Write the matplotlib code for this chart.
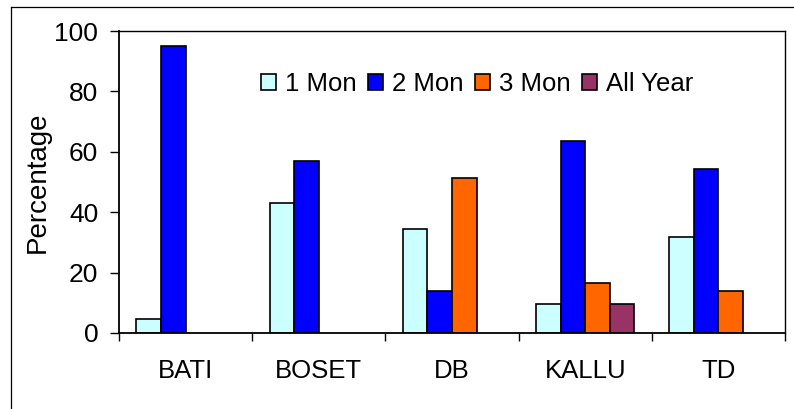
import numpy as np
import matplotlib.pyplot as plt
from matplotlib.lines import Line2D

plt.rcParams['font.family'] = ['Liberation Sans', 'DejaVu Sans']

sites = ['BATI', 'BOSET', 'DB', 'KALLU', 'TD']
series = ['1 Mon', '2 Mon', '3 Mon', 'All Year']
one_mon = [4.5, 43.0, 34.3, 9.7, 31.7]
two_mon = [95.1, 56.8, 13.9, 63.5, 54.2]
three_mon = [0, 0, 51.4, 16.5, 13.8]
all_year = [0, 0, 0, 9.7, 0]
colors = ['#CCFFFF', '#0000FF', '#FF6600', '#993366']

fs = 18.5
fig = plt.figure(figsize=(7.94, 4.09), dpi=100)
ax = fig.add_axes([119 / 794, 1 - 333 / 409, 666 / 794, 302 / 409])

x = np.arange(len(sites))
w = 1 / 5.41
for i, (vals, name, c) in enumerate(zip([one_mon, two_mon, three_mon, all_year], series, colors)):
    vals = np.array(vals, dtype=float)
    keep = vals > 0
    ax.bar(x[keep] + (i - 1.5) * w, vals[keep], width=w, color=c,
           edgecolor='black', linewidth=1.2, label=name)

ax.set_xlim(-0.5, 4.5)
ax.set_ylim(0, 100)
ax.set_yticks([0, 20, 40, 60, 80, 100])
ax.set_xticks(x)
ax.set_xticklabels(sites)
ax.set_xticks(np.arange(-0.5, 5, 1), minor=True)
ax.tick_params(axis='x', which='major', length=0, pad=18.5, labelsize=fs)
ax.tick_params(axis='x', which='minor', length=6, width=1, direction='out')
ax.tick_params(axis='y', length=6.5, width=1, pad=8.5, labelsize=19)

for s in ['left', 'bottom']:
    ax.spines[s].set_linewidth(1.3)
for s in ['top', 'right']:
    ax.spines[s].set_linewidth(1.0)

ax.set_ylabel('Percentage', fontsize=20, va='center')
ax.yaxis.set_label_coords((37.5 - 119) / 666, 0.5)

fig.legend(loc='center left', bbox_to_anchor=(261 / 794, 1 - 84 / 409),
           ncol=4, frameon=False, fontsize=fs, borderpad=0, borderaxespad=0,
           handlelength=0.58, handleheight=0.58, handletextpad=0.35,
           columnspacing=0.45)

# outer chart border
fig.add_artist(Line2D([11 / 794, 11 / 794], [0, 1 - 7 / 409], color='black', lw=0.9))
fig.add_artist(Line2D([11 / 794, 1], [1 - 7 / 409, 1 - 7 / 409], color='black', lw=0.9))

fig.savefig('out.png', dpi=100)
